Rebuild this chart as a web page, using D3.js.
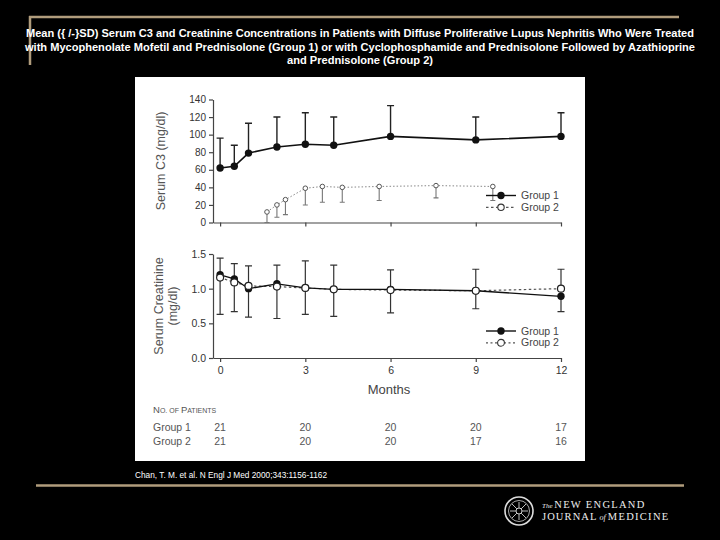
<!DOCTYPE html>
<html lang="en">
<head>
<meta charset="UTF-8">
<title>Serum C3 and Creatinine</title>
<style>
  html, body { margin: 0; padding: 0; background: #000; }
  svg { display: block; }
</style>
</head>
<body>
<div id="chart"></div>
<script src="https://cdnjs.cloudflare.com/ajax/libs/d3/7.8.5/d3.min.js"></script>
<script>
// values
const months = [0, 0.5, 1, 2, 3, 4, 6, 9, 12];
const c3G1 = [62, 64, 79, 86, 89, 88, 98, 94, 98];
const c3G1SD = [34, 24, 34, 34, 36, 32, 35, 26, 27];
const c3G2Months = [1.65, 2, 2.3, 3, 3.6, 4.3, 5.6, 7.6, 9.6];
const c3G2 = [12, 20, 26, 39, 41, 40, 41, 42, 41];
const c3G2SD = [12, 14, 17, 19, 18, 17, 16, 14, 16];
const crG1 = [1.20, 1.14, 1.00, 1.07, 1.01, 0.99, 0.99, 0.97, 0.89];
const crG1SD = [0.24, 0.22, 0.33, 0.27, 0.39, 0.35, 0.28, 0.31, 0.39];
const crG2 = [1.16, 1.09, 1.04, 1.03, 1.01, 0.99, 0.98, 0.97, 1.00];
const crG2SD = [0.53, 0.42, 0.45, 0.46, 0.38, 0.39, 0.33, 0.26, 0.33];

const monthTicks = [0, 3, 6, 9, 12];
const c3Ticks = [0, 20, 40, 60, 80, 100, 120, 140];
const crTicks = [0, 0.5, 1.0, 1.5];
const patientsG1 = [21, 20, 20, 20, 17];
const patientsG2 = [21, 20, 20, 17, 16];
const seriesNames = ["Group 1", "Group 2"];

const titleLines = [
  "Mean ({ /-}SD) Serum C3 and Creatinine Concentrations in Patients with Diffuse Proliferative Lupus Nephritis Who Were Treated",
  "with Mycophenolate Mofetil and Prednisolone (Group 1) or with Cyclophosphamide and Prednisolone Followed by Azathioprine",
  "and Prednisolone (Group 2)"
];
const citation = "Chan, T. M. et al. N Engl J Med 2000;343:1156-1162";

const W = 720, H = 540;
const gold = "#b09c7c";
const axisCol = "#444";
const sans = "'Liberation Sans', Arial, sans-serif";
const narrow = "'Liberation Sans Narrow', 'Liberation Sans', Arial, sans-serif";

const svg = d3.select("#chart").append("svg")
  .attr("width", W).attr("height", H);

svg.append("rect").attr("width", W).attr("height", H).attr("fill", "#000");

// frame lines
svg.append("line").attr("x1", 29).attr("x2", 679).attr("y1", 17).attr("y2", 17)
  .attr("stroke", gold).attr("stroke-width", 2.5);
svg.append("line").attr("x1", 30).attr("x2", 30).attr("y1", 16).attr("y2", 65)
  .attr("stroke", gold).attr("stroke-width", 2.5);
svg.append("line").attr("x1", 36).attr("x2", 684).attr("y1", 485.5).attr("y2", 485.5)
  .attr("stroke", gold).attr("stroke-width", 2.5);

// title
const titleLen = [668, 670, 146];
svg.selectAll("text.title").data(titleLines).join("text")
  .attr("class", "title")
  .attr("x", 360).attr("y", (d, i) => 37 + i * 13.5)
  .attr("text-anchor", "middle")
  .attr("fill", "#fff")
  .attr("font-family", narrow).attr("font-weight", "bold").attr("font-size", 11)
  .attr("textLength", (d, i) => titleLen[i]).attr("lengthAdjust", "spacingAndGlyphs")
  .text(d => d);

// white figure panel
svg.append("rect").attr("x", 135).attr("y", 77).attr("width", 450).attr("height", 384)
  .attr("fill", "#fff");

svg.append("text").attr("x", 135).attr("y", 478)
  .attr("fill", "#fff").attr("font-family", narrow).attr("font-size", 9)
  .attr("textLength", 192).attr("lengthAdjust", "spacingAndGlyphs")
  .text(citation);

// scales
const x = d3.scaleLinear().domain([-0.25, 12]).range([213, 561]);
const yC3 = d3.scaleLinear().domain([0, 140]).range([222.5, 99.5]);
const yCr = d3.scaleLinear().domain([0, 1.5]).range([358, 254]);

function styleAxis(g) {
  g.selectAll("path, line").attr("stroke", axisCol).attr("stroke-width", 1.2);
  g.selectAll("text").attr("fill", "#333").attr("font-family", sans).attr("font-size", 10);
}

// --- upper panel: C3 ---
const upper = svg.append("g");
upper.append("g").attr("transform", "translate(213,0)")
  .call(d3.axisLeft(yC3).tickValues(c3Ticks).tickSize(4).tickPadding(3).tickSizeOuter(0))
  .call(styleAxis);
upper.append("g").attr("transform", `translate(0,${yC3(0)})`)
  .call(d3.axisBottom(x).tickValues(monthTicks).tickSize(4).tickFormat("").tickSizeOuter(0))
  .call(styleAxis);

const c3G1Data = months.map((m, i) => ({ m, v: c3G1[i], sd: c3G1SD[i] }));
const c3G2Data = c3G2Months.map((m, i) => ({ m, v: c3G2[i], sd: c3G2SD[i] }));

// group 2 error bars (downward)
upper.selectAll("path.e2").data(c3G2Data).join("path")
  .attr("d", d => {
    const cx = x(d.m), y0 = yC3(d.v), y1 = yC3(d.v - d.sd);
    return `M${cx},${y0}V${y1}M${cx - 2.5},${y1}H${cx + 2.5}`;
  })
  .attr("stroke", "#777").attr("stroke-width", 1.1).attr("fill", "none");

// group 1 error bars (upward)
upper.selectAll("path.e1").data(c3G1Data).join("path")
  .attr("d", d => {
    const cx = x(d.m), y0 = yC3(d.v), y1 = yC3(d.v + d.sd);
    return `M${cx},${y0}V${y1}M${cx - 3.5},${y1}H${cx + 3.5}`;
  })
  .attr("stroke", "#222").attr("stroke-width", 1.4).attr("fill", "none");

upper.append("path").datum(c3G2Data)
  .attr("d", d3.line().x(d => x(d.m)).y(d => yC3(d.v)))
  .attr("fill", "none").attr("stroke", "#888").attr("stroke-width", 1)
  .attr("stroke-dasharray", "1.5,2");
upper.append("path").datum(c3G1Data)
  .attr("d", d3.line().x(d => x(d.m)).y(d => yC3(d.v)))
  .attr("fill", "none").attr("stroke", "#111").attr("stroke-width", 1.6);

upper.selectAll("circle.g2").data(c3G2Data).join("circle")
  .attr("cx", d => x(d.m)).attr("cy", d => yC3(d.v)).attr("r", 2.3)
  .attr("fill", "#fff").attr("stroke", "#555").attr("stroke-width", 1);
upper.selectAll("circle.g1").data(c3G1Data).join("circle")
  .attr("cx", d => x(d.m)).attr("cy", d => yC3(d.v)).attr("r", 3.7)
  .attr("fill", "#111");

// --- lower panel: creatinine ---
const lower = svg.append("g");
lower.append("g").attr("transform", "translate(213,0)")
  .call(d3.axisLeft(yCr).tickValues(crTicks).tickSize(4).tickPadding(3)
    .tickFormat(d3.format(".1f")).tickSizeOuter(0))
  .call(styleAxis)
  .call(g => g.selectAll("text").attr("font-size", 10.5));
lower.append("g").attr("transform", `translate(0,${yCr(0)})`)
  .call(d3.axisBottom(x).tickValues(monthTicks).tickSize(4).tickPadding(5).tickSizeOuter(0))
  .call(styleAxis)
  .call(g => g.selectAll("text").attr("font-size", 10.5));

const crData = months.map((m, i) => ({
  m, g1: crG1[i], g2: crG2[i], hi: crG1[i] + crG1SD[i], lo: crG2[i] - crG2SD[i]
}));

lower.selectAll("path.ecr").data(crData).join("path")
  .attr("d", d => {
    const cx = x(d.m), yh = yCr(d.hi), yl = yCr(d.lo);
    return `M${cx},${yl}V${yh}M${cx - 3.5},${yh}H${cx + 3.5}M${cx - 3.5},${yl}H${cx + 3.5}`;
  })
  .attr("stroke", "#333").attr("stroke-width", 1.2).attr("fill", "none");

lower.append("path").datum(crData)
  .attr("d", d3.line().x(d => x(d.m)).y(d => yCr(d.g2)))
  .attr("fill", "none").attr("stroke", "#555").attr("stroke-width", 1.2)
  .attr("stroke-dasharray", "2.5,2.5");
lower.append("path").datum(crData)
  .attr("d", d3.line().x(d => x(d.m)).y(d => yCr(d.g1)))
  .attr("fill", "none").attr("stroke", "#111").attr("stroke-width", 1.3);

lower.selectAll("circle.g1").data(crData).join("circle")
  .attr("cx", d => x(d.m)).attr("cy", d => yCr(d.g1)).attr("r", 3.7)
  .attr("fill", "#111");
lower.selectAll("circle.g2").data(crData).join("circle")
  .attr("cx", d => x(d.m)).attr("cy", d => yCr(d.g2)).attr("r", 3.5)
  .attr("fill", "#fff").attr("stroke", "#222").attr("stroke-width", 1.2);

// legends
function legend(g, y0, openR, dash2) {
  const items = g.selectAll("g.leg").data(seriesNames).join("g")
    .attr("class", "leg")
    .attr("transform", (d, i) => `translate(0,${y0 + i * 11.8})`);
  items.append("line").attr("x1", 486).attr("x2", 516)
    .attr("stroke", (d, i) => i ? "#555" : "#111")
    .attr("stroke-width", (d, i) => i ? 1.2 : 1.4)
    .attr("stroke-dasharray", (d, i) => i ? dash2 : null);
  items.append("circle").attr("cx", 501).attr("r", (d, i) => i ? openR : 3.7)
    .attr("fill", (d, i) => i ? "#fff" : "#111")
    .attr("stroke", (d, i) => i ? "#333" : "none").attr("stroke-width", 1.1);
  items.append("text").attr("x", 521).attr("dy", "0.35em")
    .attr("fill", "#444").attr("font-family", sans).attr("font-size", 10.5)
    .text(d => d);
}
legend(upper, 195.5, 3.2, "2.5,2.5");
legend(lower, 331, 3.4, "2,2.5");

// axis titles
svg.append("text")
  .attr("transform", `translate(165,${(yC3(0) + yC3(140)) / 2}) rotate(-90)`)
  .attr("text-anchor", "middle")
  .attr("fill", "#555").attr("font-family", sans).attr("font-size", 12.5)
  .text("Serum C3 (mg/dl)");
const crTitle = svg.append("text")
  .attr("transform", `translate(163,${(yCr(0) + yCr(1.5)) / 2}) rotate(-90)`)
  .attr("text-anchor", "middle")
  .attr("fill", "#555").attr("font-family", sans).attr("font-size", 12.5);
crTitle.append("tspan").attr("x", 0).attr("y", 0).text("Serum Creatinine");
crTitle.append("tspan").attr("x", 0).attr("y", 13.5).text("(mg/dl)");

svg.append("text").attr("x", 389).attr("y", 394)
  .attr("text-anchor", "middle").attr("fill", "#444")
  .attr("font-family", sans).attr("font-size", 13)
  .text("Months");

// number of patients
const np = svg.append("text").attr("x", 153).attr("y", 413)
  .attr("fill", "#555").attr("font-family", sans).attr("font-size", 9.5);
np.append("tspan").text("N");
np.append("tspan").attr("font-size", 7).text("O. OF ");
np.append("tspan").text("P");
np.append("tspan").attr("font-size", 7).text("ATIENTS");

const rows = [patientsG1, patientsG2];
rows.forEach((row, r) => {
  const yRow = 430.5 + r * 14;
  svg.append("text").attr("x", 153).attr("y", yRow)
    .attr("fill", "#555").attr("font-family", sans).attr("font-size", 10.5)
    .text(seriesNames[r]);
  svg.append("g").selectAll("text").data(row).join("text")
    .attr("x", (d, i) => x(monthTicks[i])).attr("y", yRow)
    .attr("text-anchor", "middle")
    .attr("fill", "#555").attr("font-family", sans).attr("font-size", 10.5)
    .text(d => d);
});

// journal logo
const logo = svg.append("g").attr("transform", "translate(519,511)");
logo.append("circle").attr("r", 14).attr("fill", "none").attr("stroke", "#ddd").attr("stroke-width", 1.6);
logo.append("circle").attr("r", 10.5).attr("fill", "none").attr("stroke", "#aaa").attr("stroke-width", 1);
logo.append("path").attr("d", "M-7,-7L7,7M7,-7L-7,7M0,-9V9M-9,0H9")
  .attr("stroke", "#bbb").attr("stroke-width", 1);
logo.append("circle").attr("r", 3).attr("fill", "#000").attr("stroke", "#ccc").attr("stroke-width", 1);

const serif = "'Liberation Serif', 'DejaVu Serif', serif";
const l1 = svg.append("text").attr("x", 542).attr("y", 507.5)
  .attr("fill", "#eee").attr("font-family", serif).attr("font-size", 10.5);
l1.append("tspan").attr("font-size", 7).attr("font-style", "italic").text("The ");
l1.append("tspan").attr("letter-spacing", 1.3).text("NEW ENGLAND");
const l2 = svg.append("text").attr("x", 542).attr("y", 519.5)
  .attr("fill", "#eee").attr("font-family", serif).attr("font-size", 10.5);
l2.append("tspan").attr("letter-spacing", 1.1).text("JOURNAL");
l2.append("tspan").attr("font-size", 8).attr("font-style", "italic").text(" of ");
l2.append("tspan").attr("letter-spacing", 1.3).text("MEDICINE");
</script>
</body>
</html>
